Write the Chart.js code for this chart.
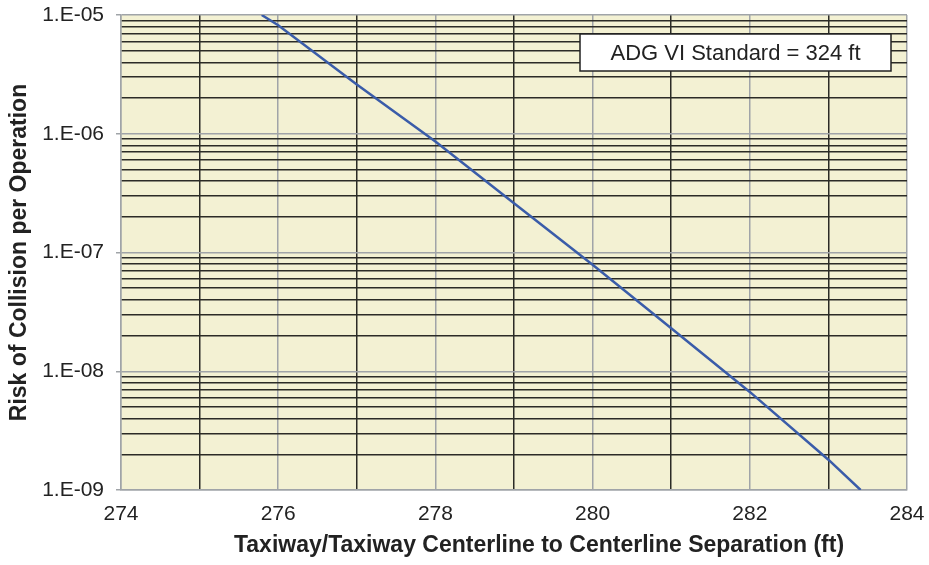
<!DOCTYPE html>
<html>
<head>
<meta charset="utf-8">
<script src="https://cdn.jsdelivr.net/npm/chart.js@4/dist/chart.umd.min.js"></script>
<style>
    html, body { margin: 0; padding: 0; background: #fff; }
    #wrap { width: 929px; height: 565px; position: relative; }
</style>
</head>
<body>
<div id="wrap"><canvas id="chart"></canvas></div>
<script>
// separation (ft) and collision risk
const separation = [275.79, 276, 277, 278, 279, 280, 281, 282, 283, 283.41];
const risk = [1.0e-5, 8.2e-6, 2.6e-6, 8.6e-7, 2.6e-7, 7.9e-8, 2.3e-8, 6.7e-9, 1.8e-9, 1.0e-9];

const decades = [1e-9, 1e-8, 1e-7, 1e-6, 1e-5];
const xTicks = [274, 275, 276, 277, 278, 279, 280, 281, 282, 283, 284];

const note = 'ADG VI Standard = 324 ft';
const xTitle = 'Taxiway/Taxiway Centerline to Centerline Separation (ft)';
const yTitle = 'Risk of Collision per Operation';

const GREY = '#a0a4a8';
const DARK = '#2b2b26';
const FONT = '"Liberation Sans", Arial, Helvetica, sans-serif';

function is_decade(v) {
    let e = Math.round(Math.log10(v));
    return Math.abs(v / Math.pow(10, e) - 1) < 1e-6;
}

function decade_label(v) {
    let e = Math.round(Math.log10(v));
    let n = String(Math.abs(e)).padStart(2, '0');
    return `1.E${e < 0 ? '-' : '+'}${n}`;
}

// keep tick labels from pushing the plot area around
function no_label_padding(scale) {
    scale.paddingLeft = 0;
    scale.paddingRight = 0;
    scale.paddingTop = 0;
    scale.paddingBottom = 0;
}

const plotBackground = {
    id: 'plotBackground',
    beforeDraw(chart) {
        let { ctx, chartArea: a } = chart;
        ctx.save();
        ctx.fillStyle = '#f3f1d3';
        ctx.fillRect(a.left, a.top, a.right - a.left, a.bottom - a.top);
        ctx.restore();
    },
};

const annotations = {
    id: 'annotations',
    afterDraw(chart) {
        let { ctx, chartArea: a } = chart;
        ctx.save();
        // note box, top right
        let w = 311, h = 37;
        let x = a.right - 16 - w, y = a.top + 19;
        ctx.fillStyle = '#fff';
        ctx.fillRect(x, y, w, h);
        ctx.strokeStyle = '#222';
        ctx.lineWidth = 1.5;
        ctx.strokeRect(x, y, w, h);
        ctx.fillStyle = '#222';
        ctx.font = `22px ${FONT}`;
        ctx.textAlign = 'center';
        ctx.textBaseline = 'middle';
        ctx.fillText(note, x + w / 2, y + h / 2 + 1);
        // x axis title, sits a little right of centre in the original
        ctx.font = `bold 23px ${FONT}`;
        ctx.fillText(xTitle, (a.left + a.right) / 2 + 25, 546);
        ctx.restore();
    },
};

new Chart(document.getElementById('chart'), {
    type: 'line',
    data: {
        datasets: [{
            data: separation.map((s, i) => ({ x: s, y: risk[i] })),
            borderColor: '#3a5ca9',
            borderWidth: 2.5,
            pointRadius: 0,
            tension: 0,
            fill: false,
        }],
    },
    options: {
        responsive: true,
        maintainAspectRatio: false,
        animation: false,
        layout: { padding: { top: 15, right: 22, bottom: 0, left: 0 } },
        plugins: {
            legend: { display: false },
            tooltip: { enabled: false },
        },
        scales: {
            x: {
                type: 'linear',
                min: 274,
                max: 284,
                afterBuildTicks: scale => { scale.ticks = xTicks.map(v => ({ value: v })); },
                afterFit: scale => { scale.height = 75; no_label_padding(scale); },
                border: { color: GREY, width: 1.5 },
                grid: {
                    drawTicks: false,
                    color: c => c.tick && c.tick.value % 2 === 0 ? GREY : DARK,
                    lineWidth: 1.5,
                },
                ticks: {
                    autoSkip: false,
                    maxRotation: 0,
                    padding: 12,
                    color: '#222',
                    font: { family: FONT, size: 21 },
                    callback: v => v % 2 === 0 ? String(v) : '',
                },
            },
            y: {
                type: 'logarithmic',
                min: 1e-9,
                max: 1e-5,
                afterBuildTicks: scale => {
                    let ticks = [];
                    decades.slice(0, -1).forEach(d => {
                        for (let m = 1; m < 10; m++) ticks.push({ value: m * d });
                    });
                    ticks.push({ value: decades[decades.length - 1] });
                    scale.ticks = ticks;
                },
                afterFit: scale => { scale.width = 121; no_label_padding(scale); },
                border: { color: GREY, width: 1.5 },
                grid: {
                    color: c => c.tick && is_decade(c.tick.value) ? GREY : DARK,
                    tickColor: c => c.tick && is_decade(c.tick.value) ? GREY : 'rgba(0,0,0,0)',
                    lineWidth: 1.5,
                    tickLength: 5,
                },
                ticks: {
                    autoSkip: false,
                    padding: 12,
                    color: '#222',
                    font: { family: FONT, size: 21 },
                    callback: v => is_decade(v) ? decade_label(v) : '',
                },
                title: {
                    display: true,
                    text: yTitle,
                    color: '#222',
                    font: { family: FONT, size: 23, weight: 'bold' },
                    padding: { top: 6, bottom: 0 },
                },
            },
        },
    },
    plugins: [plotBackground, annotations],
});
</script>
</body>
</html>
